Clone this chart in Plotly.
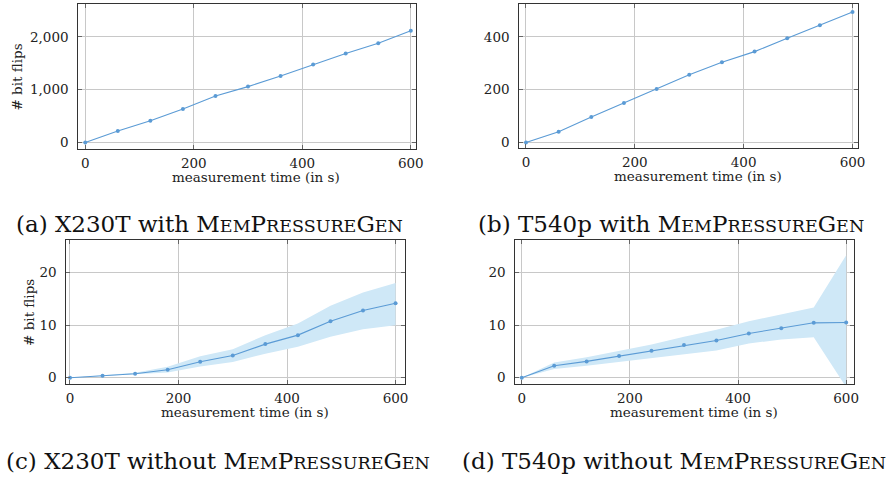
import plotly.graph_objects as go

# ---- data ----
time_s = [0, 60, 120, 180, 240, 300, 360, 420, 480, 540, 600]

a_flips = [0, 215, 411, 633, 880, 1057, 1259, 1475, 1684, 1880, 2114]
b_flips = [0, 40.5, 96, 149, 202.5, 256, 304, 344, 395, 444, 494]

c_mean = [0, 0.38, 0.76, 1.52, 3.04, 4.24, 6.39, 8.1, 10.76, 12.78, 14.18]
c_upper = [0, 0.44, 0.95, 2.1, 4.1, 5.4, 8.1, 10.3, 13.7, 16.2, 18.0]
c_lower = [0, 0.3, 0.6, 1.0, 2.15, 3.0, 4.56, 5.88, 7.8, 9.24, 10.0]

d_mean = [0, 2.28, 3.1, 4.11, 5.13, 6.2, 7.09, 8.42, 9.43, 10.44, 10.5]
d_upper = [0, 2.9, 3.9, 5.06, 6.3, 7.8, 9.1, 10.76, 12.0, 13.35, 23.3]
d_lower = [0, 1.65, 2.28, 3.04, 3.73, 4.43, 5.19, 6.5, 7.28, 7.7, -1.8]

x_ticks = [0, 200, 400, 600]
a_yticks = [0, 1000, 2000]
a_ylabels = ["0", "1,000", "2,000"]
b_yticks = [0, 200, 400]
cd_yticks = [0, 10, 20]

x_title = "measurement time (in s)"
y_title = "# bit flips"
sc = '<span style="font-size:17.5px">'
mpg = f"M{sc}EM</span>P{sc}RESSURE</span>G{sc}EN</span>"
captions = [
    f"(a) X230T with {mpg}",
    f"(b) T540p with {mpg}",
    f"(c) X230T without {mpg}",
    f"(d) T540p without {mpg}",
]

LINE = "#5b9bd5"
BAND = "rgba(207,232,247,1)"
FONT = "DejaVu Serif"
W, H = 891, 477

# panel pixel boxes: left, right, top, bottom
boxes = [(78, 419, 4, 150), (523, 865, 4, 149), (66, 408, 241, 386), (519, 861, 241, 386)]
yranges = [(-132, 2623), (-22.6, 524.5), (-1.27, 26.2), (-1.27, 26.2)]
xranges = [(-12.8, 610), (-12.3, 610.5), (-6.6, 618), (-11.9, 615)]

fig = go.Figure()

def add_band(idx, lower, upper):
    xa = "x" if idx == 0 else f"x{idx+1}"
    ya = "y" if idx == 0 else f"y{idx+1}"
    fig.add_trace(go.Scatter(x=time_s, y=lower, mode="lines", line=dict(width=0),
                             xaxis=xa, yaxis=ya, showlegend=False, hoverinfo="skip"))
    fig.add_trace(go.Scatter(x=time_s, y=upper, mode="lines", line=dict(width=0),
                             fill="tonexty", fillcolor=BAND,
                             xaxis=xa, yaxis=ya, showlegend=False, hoverinfo="skip"))

def add_line(idx, ys):
    xa = "x" if idx == 0 else f"x{idx+1}"
    ya = "y" if idx == 0 else f"y{idx+1}"
    fig.add_trace(go.Scatter(x=time_s, y=ys, mode="lines+markers",
                             line=dict(color=LINE, width=1.1),
                             marker=dict(color=LINE, size=4),
                             xaxis=xa, yaxis=ya, showlegend=False))

add_line(0, a_flips)
add_line(1, b_flips)
add_band(2, c_lower, c_upper)
add_line(2, c_mean)
add_band(3, d_lower, d_upper)
add_line(3, d_mean)

yt = [(a_yticks, a_ylabels), (b_yticks, [str(v) for v in b_yticks]),
      (cd_yticks, [str(v) for v in cd_yticks]), (cd_yticks, [str(v) for v in cd_yticks])]

layout = dict(width=W, height=H, margin=dict(l=0, r=0, t=0, b=0),
              paper_bgcolor="white", plot_bgcolor="white",
              font=dict(family=FONT, size=13, color="#222"))
for i, (l, r, t, b) in enumerate(boxes):
    xk = "xaxis" if i == 0 else f"xaxis{i+1}"
    yk = "yaxis" if i == 0 else f"yaxis{i+1}"
    ax_common = dict(showline=True, linecolor="#333", linewidth=1, mirror="ticks",
                     ticks="inside", ticklen=4, tickcolor="#666", tickwidth=1,
                     showgrid=True, gridcolor="#c8c8c8", gridwidth=1, zeroline=False,
                     tickfont=dict(family=FONT, size=13.5, color="#222"))
    layout[xk] = dict(domain=[l / W, r / W], range=list(xranges[i]),
                      tickvals=x_ticks, ticktext=[str(v) for v in x_ticks],
                      anchor="y" if i == 0 else f"y{i+1}", ticklabelstandoff=1,
                      **ax_common)
    layout[yk] = dict(domain=[1 - b / H, 1 - t / H], range=list(yranges[i]),
                      tickvals=yt[i][0], ticktext=yt[i][1],
                      anchor="x" if i == 0 else f"x{i+1}", ticklabelstandoff=6,
                      **ax_common)
fig.update_layout(**layout)

ann = []
# x titles
for (l, r, t, b) in boxes:
    ann.append(dict(text=x_title, x=(l + r) / 2 / W + 0.01, y=1 - (b + 28) / H,
                    xref="paper", yref="paper", showarrow=False,
                    font=dict(family=FONT, size=13.5, color="#222"),
                    xanchor="center", yanchor="middle"))
# y titles
for (l, r, t, b), xpx in [(boxes[0], 16), (boxes[2], 28)]:
    ann.append(dict(text=y_title, x=xpx / W, y=1 - (t + b) / 2 / H,
                    xref="paper", yref="paper", showarrow=False, textangle=-90,
                    font=dict(family=FONT, size=13.5, color="#222"),
                    xanchor="center", yanchor="middle"))
# captions
for text, cx, cy in zip(captions, [210, 676, 219, 679], [225, 225, 463, 463]):
    ann.append(dict(text=text, x=cx / W, y=1 - cy / H, xref="paper", yref="paper",
                    showarrow=False, font=dict(family=FONT, size=23, color="#111"),
                    xanchor="center", yanchor="middle"))
fig.update_layout(annotations=ann)

fig.write_html("out.html", config={"displayModeBar": False},
               post_script="document.body.style.margin='0';")
